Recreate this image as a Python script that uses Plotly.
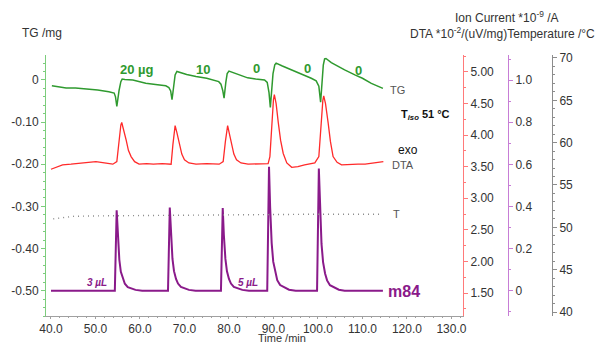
import plotly.graph_objects as go

# ---------------- data ----------------
tg_time = [40.2, 41.5, 43.4, 45.5, 47.9, 50.5, 53.0, 54.2, 54.5, 54.8, 55.3, 55.7, 56.0,
           56.6, 58.4, 61.3, 63.5, 65.8, 66.5, 66.9, 67.2, 67.6, 67.9, 68.3, 68.8, 70.5,
           72.6, 75.0, 77.7, 78.2, 78.6, 78.9, 79.3, 79.6, 80.0, 81.0, 84.2, 86.0, 88.0,
           88.6, 89.0, 89.3, 89.6, 89.9, 90.3, 90.6, 92.0, 94.1, 96.0, 98.5, 99.6, 100.2,
           100.6, 100.9, 101.2, 101.5, 101.8, 103.0, 104.5, 106.0, 108.3, 110.0, 112.0,
           113.5, 114.6]
tg_mg = [-0.014, -0.016, -0.019, -0.019, -0.021, -0.024, -0.028, -0.031, -0.040, -0.063,
         -0.025, -0.004, 0.002, 0.001, 0.000, -0.008, -0.011, -0.014, -0.018, -0.026,
         -0.047, -0.010, 0.012, 0.020, 0.018, 0.013, 0.008, 0.004, -0.004, -0.010, -0.025,
         -0.043, -0.005, 0.015, 0.021, 0.017, 0.005, 0.002, 0.000, -0.006, -0.030, -0.065,
         -0.020, 0.015, 0.036, 0.040, 0.033, 0.024, 0.014, 0.004, -0.002, -0.015, -0.053,
         -0.010, 0.035, 0.050, 0.051, 0.041, 0.032, 0.024, 0.012, 0.004, -0.008, -0.015,
         -0.020]

dta_time = [40.0, 41.0, 42.6, 44.5, 46.0, 48.0, 50.1, 52.0, 53.9, 54.8, 55.3, 55.7, 55.9,
            56.3, 56.9, 57.4, 58.0, 58.8, 59.8, 61.5, 63.0, 65.0, 67.0, 67.4, 67.7, 67.9,
            68.3, 68.8, 69.4, 70.0, 71.0, 72.6, 75.0, 77.8, 78.7, 79.2, 79.5, 79.7, 80.1,
            80.6, 81.1, 81.7, 82.7, 84.3, 86.5, 88.8, 89.2, 89.7, 90.0, 90.2, 90.6, 91.1,
            91.6, 92.2, 93.0, 94.1, 95.5, 97.0, 99.3, 100.2, 100.7, 101.1, 101.3, 101.7,
            102.3, 102.8, 103.4, 104.3, 105.3, 107.0, 109.0, 110.6, 112.5, 114.7]
dta_val = [3.46, 3.49, 3.53, 3.54, 3.55, 3.57, 3.58, 3.56, 3.54, 3.58, 3.93, 4.16, 4.20,
           4.10, 3.92, 3.76, 3.66, 3.58, 3.54, 3.55, 3.54, 3.55, 3.54, 3.85, 4.10, 4.15,
           4.04, 3.87, 3.70, 3.61, 3.56, 3.54, 3.55, 3.54, 3.58, 3.90, 4.11, 4.15, 4.02,
           3.84, 3.70, 3.61, 3.56, 3.54, 3.54, 3.55, 3.66, 4.30, 4.56, 4.64, 4.50, 4.19,
           3.92, 3.71, 3.56, 3.49, 3.50, 3.53, 3.56, 3.66, 4.25, 4.55, 4.62, 4.50, 4.19,
           3.90, 3.66, 3.57, 3.53, 3.54, 3.54, 3.54, 3.56, 3.58]

ion_time = [40.0, 54.35, 54.76, 55.0, 55.36, 55.7, 56.16, 56.6, 57.26, 59.0, 60.5,
            66.3, 66.7, 66.95, 67.3, 67.65, 68.1, 68.55, 69.2, 71.0, 72.5,
            78.2, 78.6, 78.85, 79.2, 79.55, 80.0, 80.45, 81.1, 83.0, 84.5,
            88.6, 89.0, 89.25, 89.6, 89.95, 90.4, 90.85, 91.5, 93.5, 95.0,
            99.8, 100.2, 100.45, 100.8, 101.15, 101.6, 102.05, 102.7, 104.7, 106.0, 114.6]
ion_val = [0.0, 0.0, 0.382, 0.260, 0.147, 0.090, 0.055, 0.033, 0.017, 0.004, 0.0,
           0.0, 0.395, 0.268, 0.152, 0.093, 0.056, 0.034, 0.018, 0.004, 0.0,
           0.0, 0.393, 0.266, 0.151, 0.092, 0.056, 0.034, 0.018, 0.004, 0.0,
           0.0, 0.588, 0.400, 0.226, 0.138, 0.084, 0.050, 0.027, 0.005, 0.0,
           0.0, 0.580, 0.394, 0.222, 0.136, 0.082, 0.049, 0.026, 0.005, 0.0, 0.0]

temp_time = [40.5, 42.5, 45.0, 50.0, 60.0, 70.0, 80.0, 90.0, 100.0, 114.5]
temp_val = [51.0, 51.1, 51.3, 51.35, 51.4, 51.45, 51.5, 51.5, 51.55, 51.55]

x_ticks = [40, 50, 60, 70, 80, 90, 100, 110, 120, 130]
x_ticklabels = ["40.0", "50.0", "60.0", "70.0", "80.0", "90.0", "100.0", "110.0", "120.0", "130.0"]
tg_ticks = [0, -0.1, -0.2, -0.3, -0.4, -0.5]
tg_ticklabels = ["0", "-0.10", "-0.20", "-0.30", "-0.40", "-0.50"]
dta_ticks = [1.5, 2.0, 2.5, 3.0, 3.5, 4.0, 4.5, 5.0]
dta_ticklabels = ["1.50", "2.00", "2.50", "3.00", "3.50", "4.00", "4.50", "5.00"]
ion_ticks = [0, 0.2, 0.4, 0.6, 0.8, 1.0]
ion_ticklabels = ["0", "0.2", "0.4", "0.6", "0.8", "1.0"]
temp_ticks = [40, 45, 50, 55, 60, 65, 70]
temp_ticklabels = ["40", "45", "50", "55", "60", "65", "70"]

# ---------------- styling ----------------
W, H = 599, 345
ML, MR, MT, MB = 46, 47, 55, 29
PW = W - ML - MR
PH = H - MT - MB


def px(x):
    return (x - ML) / PW


def py(y):
    return (H - MB - y) / PH


FONT = "Arial, Liberation Sans, sans-serif"
GREEN = "#2f9a2f"
RED = "#ff2a2a"
PURPLE = "#8a1a8a"
GRAY = "#8a8a8a"
TICKC = "#333333"

fig = go.Figure()
fig.add_trace(go.Scatter(x=tg_time, y=tg_mg, mode="lines", yaxis="y",
                         line=dict(color=GREEN, width=1.5), showlegend=False))
fig.add_trace(go.Scatter(x=dta_time, y=dta_val, mode="lines", yaxis="y2",
                         line=dict(color=RED, width=1.3), showlegend=False))
fig.add_trace(go.Scatter(x=temp_time, y=temp_val, mode="lines", yaxis="y4",
                         line=dict(color=GRAY, width=1.4, dash="1px,4px"), showlegend=False))
fig.add_trace(go.Scatter(x=ion_time, y=ion_val, mode="lines", yaxis="y3",
                         line=dict(color=PURPLE, width=2), showlegend=False))


def yax(color, ticks, labels, rng, minor_dtick, minor_tick0, **kw):
    d = dict(range=rng, tickmode="array", tickvals=ticks, ticktext=labels,
             showline=True, linecolor=color, linewidth=1, ticks="outside", ticklen=4,
             tickcolor=color, showgrid=False, zeroline=False, automargin=False,
             tickfont=dict(size=12, color=TICKC, family=FONT),
             minor=dict(tickmode="linear", tick0=minor_tick0, dtick=minor_dtick,
                        ticks="outside", ticklen=2, tickcolor=color, showgrid=False))
    d.update(kw)
    return d


fig.update_layout(
    template="none",
    width=W, height=H, autosize=False,
    margin=dict(l=ML, r=MR, t=MT, b=MB, pad=0, autoexpand=False),
    paper_bgcolor="white", plot_bgcolor="white",
    font=dict(family=FONT, size=12, color=TICKC),
    showlegend=False,
    xaxis=dict(domain=[0, px(463)], range=[38.88, 132.6], tickmode="array",
               tickvals=x_ticks, ticktext=x_ticklabels, showline=True,
               linecolor="#a0a0a0", ticks="outside", ticklen=2, tickcolor="#a0a0a0",
               showgrid=False, zeroline=False, automargin=False,
               tickfont=dict(size=12, color=TICKC, family=FONT),
               minor=dict(tickmode="linear", tick0=40, dtick=2, ticks="outside",
                          ticklen=1, tickcolor="#a0a0a0", showgrid=False)),
    yaxis=yax("#7ccd7c", tg_ticks, tg_ticklabels, [-0.560, 0.0592], 0.02, 0,
              anchor="x", side="left"),
    yaxis2=yax("#ff7a7a", dta_ticks, dta_ticklabels, [1.136, 5.269], 0.25, 0,
               overlaying="y", side="right", anchor="x"),
    yaxis3=yax("#c77dd6", ion_ticks, ion_ticklabels, [-0.120, 1.119], 0.1, 0,
               overlaying="y", side="right", anchor="free", position=px(508)),
    yaxis4=yax("#8c8c8c", temp_ticks, temp_ticklabels, [39.53, 70.35], 1, 40,
               overlaying="y", side="right", anchor="free", position=1.0),
)

ann = []


def add(text, x, y, size=12, color=TICKC, xanchor="center", yanchor="middle"):
    ann.append(dict(text=text, x=px(x), y=py(y), xref="paper", yref="paper",
                    xanchor=xanchor, yanchor=yanchor, showarrow=False,
                    font=dict(size=size, color=color, family=FONT)))


add("TG /mg", 20, 33, xanchor="left")
add("Ion Current *10<sup>-9</sup> /A", 507, 17)
add("DTA *10<sup>-2</sup>/(uV/mg)Temperature /°C", 597, 33, xanchor="right")
add("Time /min", 256, 346, size=11, xanchor="left", yanchor="bottom")

add("<b>20 µg</b>", 137, 69, size=13, color=GREEN)
add("<b>10</b>", 203, 69, size=13, color=GREEN)
add("<b>0</b>", 256, 68, size=13, color=GREEN)
add("<b>0</b>", 307, 68, size=13, color=GREEN)
add("<b>0</b>", 358, 70, size=13, color=GREEN)
add("TG", 388, 90, size=11, color="#555555", xanchor="left")
add("<b>T<sub><i>iso</i></sub> 51 °C</b>", 399, 115, size=11, color="#111111", xanchor="left")
add("exo", 396, 150, size=12, color="#111111", xanchor="left")
add("DTA", 390, 165, size=11, color="#555555", xanchor="left")
add("T", 391, 214, size=11, color="#555555", xanchor="left")
add("<b><i>3 µL</i></b>", 97, 282, size=10, color=PURPLE)
add("<b><i>5 µL</i></b>", 248, 282, size=10, color=PURPLE)
add("<b>m84</b>", 386, 291, size=16, color=PURPLE, xanchor="left")

fig.update_layout(annotations=ann)
fig.write_html("out.html",
               config={"displayModeBar": False, "responsive": False},
               post_script="document.body.style.margin='0px';"
                           "document.body.style.overflow='hidden';")
